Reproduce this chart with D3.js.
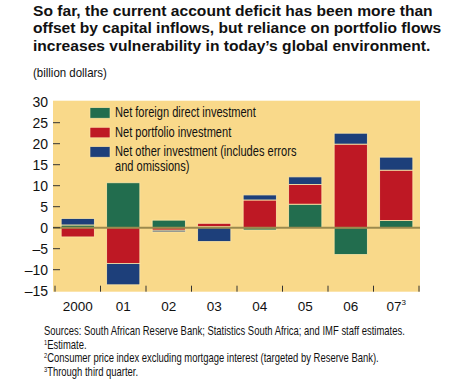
<!DOCTYPE html>
<html><head><meta charset="utf-8">
<script src="https://cdn.jsdelivr.net/npm/d3@7"></script>
<style>
body{margin:0;background:#fff;}
text{font-family:"Liberation Sans","Arial",sans-serif;fill:#111;}
</style></head>
<body><svg id="c" width="450" height="382"></svg>
<script>
const categories = ["2000","01","02","03","04","05","06","07"];
const fdi        = [0.65, 10.7, 1.8, 0.25, -0.55, 5.6, -6.4, 1.7];
const portfolio  = [-2.2, -8.5, -0.6, 0.8, 6.6, 4.7, 19.9, 12.0];
const other      = [1.55, -5.1, -0.4, -3.3, 1.2, 1.8, 2.6, 3.1];
const seriesNames = ["Net foreign direct investment","Net portfolio investment","Net other investment (includes errors|and omissions)"];
const yTicks = [30,25,20,15,10,5,0,-5,-10,-15];
const titleLines = ["So far, the current account deficit has been more than","offset by capital inflows, but reliance on portfolio flows","increases vulnerability in today\u2019s global environment."];
const notes = [["","Sources: South African Reserve Bank; Statistics South Africa; and IMF staff estimates."],["1","Estimate."],["2","Consumer price index excluding mortgage interest (targeted by Reserve Bank)."],["3","Through third quarter."]];
const colors = ["#226d4e","#be1824","#1d3f7a"];

const svg = d3.select("#c");
const L=53,R=420,T=101.7,B=290.7;

// condense a group of texts horizontally so that the first one has the given width
function condense(sel, width){
  const nodes = sel.nodes();
  const k = width / nodes[0].getComputedTextLength();
  nodes.forEach(n=>{
    const x0 = +n.getAttribute("x");
    n.setAttribute("transform",`translate(${x0},0) scale(${k},1) translate(${-x0},0)`);
  });
}

svg.append("rect").attr("x",L).attr("y",T-1).attr("width",R-L).attr("height",B-T+2).attr("fill","#f9d98a");

const x = d3.scaleBand().domain(categories).range([55,419]).paddingInner(0.27).paddingOuter(0.135);
const y = d3.scaleLinear().domain([-15,30]).range([B,T]);

const table = categories.map((c,i)=>({cat:c,fdi:fdi[i],portfolio:portfolio[i],other:other[i]}));
const stack = d3.stack().keys(["fdi","portfolio","other"]).offset(d3.stackOffsetDiverging);
const layers = stack(table);

svg.append("g").selectAll("g").data(layers).join("g").attr("fill",(d,i)=>colors[i])
 .selectAll("rect").data(d=>d).join("rect")
 .attr("x",d=>x(d.data.cat)).attr("width",x.bandwidth())
 .attr("y",d=>y(Math.max(d[0],d[1]))).attr("height",d=>Math.abs(y(d[0])-y(d[1])))
 .attr("stroke","#fde7a8").attr("stroke-width",0.8);

// zero line
svg.append("line").attr("x1",L).attr("x2",R).attr("y1",y(0)).attr("y2",y(0)).attr("stroke","#9b8a4e").attr("stroke-width",2);

// y ticks and labels
const yg = svg.append("g");
yg.selectAll("line").data(yTicks.filter(v=>v<30&&v>-15)).join("line")
 .attr("x1",L).attr("x2",L+7).attr("y1",d=>y(d)).attr("y2",d=>y(d)).attr("stroke","#333").attr("stroke-width",1);
yg.selectAll("text").data(yTicks).join("text")
 .attr("x",48).attr("y",d=>y(d)+5).attr("text-anchor","end").attr("font-size",14)
 .text(d=>d<0?"\u2013"+Math.abs(d):d);

// x ticks
const step = x.step();
const bounds = categories.map(c=>x(c)-x.paddingInner()*step/2);
bounds.push(x(categories[categories.length-1])+x.bandwidth()+x.paddingInner()*step/2);
svg.append("g").selectAll("line").data(bounds).join("line")
 .attr("x1",d=>d).attr("x2",d=>d).attr("y1",B-5).attr("y2",B+1).attr("stroke","#333").attr("stroke-width",1);
const xl = svg.append("g").selectAll("text").data(categories).join("text")
 .attr("x",d=>x(d)+x.bandwidth()/2).attr("y",311).attr("text-anchor","middle").attr("font-size",13.5)
 .text(d=>d);
xl.filter(d=>d==="07").append("tspan").attr("font-size",8).attr("dy",-6).text("3");

// legend
const lg = svg.append("g");
const sy=[107.7,127.3,146.7];
seriesNames.forEach((n,i)=>{
  lg.append("rect").attr("x",90).attr("y",sy[i]).attr("width",20).attr("height",10.5).attr("fill",colors[i]).attr("stroke","#fde7a8").attr("stroke-width",0.6);
  n.split("|").forEach((p,j)=>{
    lg.append("text").attr("x",115).attr("y",sy[i]+9.5+j*14.5).attr("font-size",14).text(p);
  });
});
condense(lg.selectAll("text"),141);

// title
const tt = svg.append("g").selectAll("text").data(titleLines).join("text")
 .attr("x",33).attr("y",(d,i)=>16+i*17.5).attr("font-size",15).attr("font-weight","bold").text(d=>d);
condense(tt,400);
const sub = svg.append("text").attr("x",33).attr("y",77).attr("font-size",13).text("(billion dollars)");
condense(sub,74);

// notes
const ng = svg.append("g");
notes.forEach((n,i)=>{
  const t = ng.append("text").attr("x",44).attr("y",335.5+i*13.4).attr("font-size",12.5);
  if(n[0]) t.append("tspan").attr("font-size",7.5).attr("dy",-4).text(n[0]);
  t.append("tspan").attr("dy",n[0]?4:0).text(n[1]);
});
condense(ng.selectAll("text"),361);
</script></body></html>
